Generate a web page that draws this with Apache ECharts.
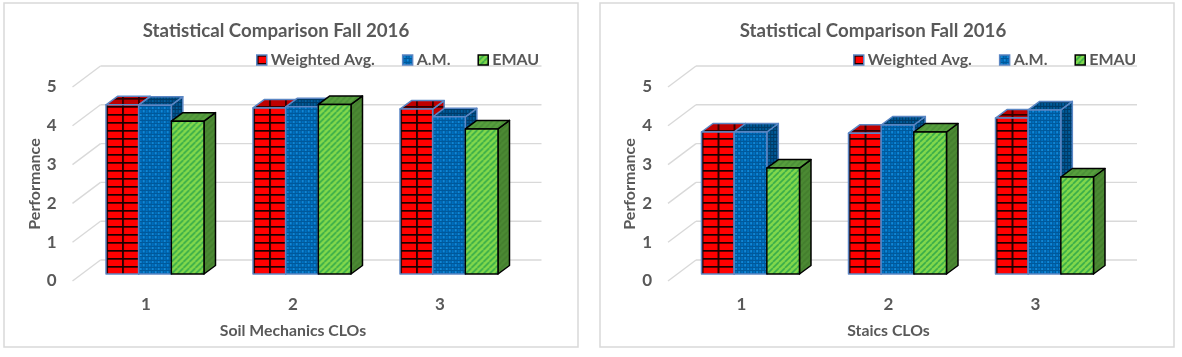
<!DOCTYPE html>
<html><head><meta charset="utf-8">
<style>html,body{margin:0;padding:0;background:#fff}#c{width:1182px;height:357px}</style>
<script src="https://cdn.jsdelivr.net/npm/echarts@6/dist/echarts.min.js"></script>
</head><body><div id="c"></div>
<script>
const categories = ['1', '2', '3'];
const seriesNames = ['Weighted Avg.', 'A.M.', 'EMAU'];
const soilWeighted = [4.36, 4.28, 4.25];
const soilAM = [4.35, 4.31, 4.05];
const soilEMAU = [3.94, 4.37, 3.74];
const staicsWeighted = [3.66, 3.63, 4.02];
const staicsAM = [3.66, 3.84, 4.23];
const staicsEMAU = [2.73, 3.66, 2.50];
const chartTitle = 'Statistical Comparison Fall 2016';
const yTicks = [0, 1, 2, 3, 4, 5];
const yName = 'Performance';
const xNames = ['Soil Mechanics CLOs', 'Staics CLOs'];

function tile(w, h, draw) {
  const c = document.createElement('canvas'); c.width = w; c.height = h;
  draw(c.getContext('2d')); return { image: c, repeat: 'repeat' };
}
function gridPat(bg, line) {
  return tile(16, 8, g => {
    g.fillStyle = bg; g.fillRect(0, 0, 16, 8);
    g.fillStyle = line; g.fillRect(0, 0, 16, 1.7); g.fillRect(0, 0, 1.8, 8);
  });
}
function plaidPat(bg, dark, light) {
  return tile(6, 7, g => {
    g.fillStyle = bg; g.fillRect(0, 0, 6, 7);
    g.fillStyle = dark; g.fillRect(0, 0, 6, 1); g.fillRect(0, 3, 6, 1);
    g.fillRect(0, 0, 1, 7); g.fillRect(3, 0, 1, 7);
    g.fillStyle = light; g.fillRect(1, 1, 2, 2); g.fillRect(4, 4, 2, 2);
  });
}
function stripePat(bg, line) {
  return tile(6, 6, g => {
    g.fillStyle = bg; g.fillRect(0, 0, 6, 6);
    g.strokeStyle = line; g.lineWidth = 1.6; g.beginPath();
    for (let i = -6; i <= 12; i += 6) { g.moveTo(i, 6); g.lineTo(i + 6, 0); }
    g.stroke();
  });
}
const looks = [
  { front: gridPat('#ff0000', '#1a0000'), top: gridPat('#bf0000', '#300000'), side: gridPat('#bf0000', '#300000'), border: '#5b86c4' },
  { front: plaidPat('#0070c0', '#00589a', '#1088d8'), top: plaidPat('#005490', '#003a66', '#00609f'), side: plaidPat('#005490', '#003a66', '#00609f'), border: '#5b86c4' },
  { front: stripePat('#82d84c', '#38ac4a'), top: stripePat('#589f3e', '#4a9038'), side: stripePat('#4c8a34', '#447e2e'), border: '#000000' }
];

const WALL_DX = 28, WALL_DY = 21, BAR_SHIFT_X = 9, BAR_SHIFT_Y = 7, DEPTH_X = 11.5, DEPTH_Y = 8.5, BAR_SHARE = 0.2222;

function barRender(slot) {
  return function (params, api) {
    const p = api.coord([api.value(0), api.value(1)]);
    const b = api.coord([api.value(0), 0]);
    const w = api.size([1, 0])[0] * BAR_SHARE;
    const x0 = p[0] + BAR_SHIFT_X + (slot - 1.5) * w;
    const h = b[1] - p[1], look = looks[slot];
    const st = f => ({ fill: f, stroke: look.border, lineWidth: 1.5, lineJoin: 'round' });
    // shapes are local to the bar so each pattern starts at the bar's own corner
    return { type: 'group', x: x0, y: b[1] - BAR_SHIFT_Y, children: [
      { type: 'polygon', shape: { points: [[w, -h], [w + DEPTH_X, -h - DEPTH_Y], [w + DEPTH_X, -DEPTH_Y], [w, 0]] }, style: st(look.side) },
      { type: 'polygon', shape: { points: [[0, -h], [DEPTH_X, -h - DEPTH_Y], [w + DEPTH_X, -h - DEPTH_Y], [w, -h]] }, style: st(look.top) },
      { type: 'rect', shape: { x: 0, y: -h, width: w, height: h }, style: st(look.front) }
    ] };
  };
}
function wallRender(params, api) {
  const v = api.value(0);
  const c = api.coord([0, v]), band = api.size([1, 0])[0];
  const ax = c[0] - band / 2, ex = c[0] + 2.5 * band, y = c[1];
  const line = (x1, y1, x2, y2) => ({ type: 'line', shape: { x1, y1, x2, y2 }, style: { stroke: '#d9d9d9', lineWidth: 1.4, fill: null } });
  return { type: 'group', children: [
    line(ax, y, ax + WALL_DX, y - WALL_DY),
    line(ax + WALL_DX, y - WALL_DY, ex + WALL_DX, y - WALL_DY)
  ] };
}

const panels = [
  { left: 72.5, cx: 276, legendLeft: 256, values: [soilWeighted, soilAM, soilEMAU], frame: [4, 3, 574, 344] },
  { left: 668, cx: 873, legendLeft: 853, values: [staicsWeighted, staicsAM, staicsEMAU], frame: [600, 3, 574, 344] }
];
const textColor = '#595959', fontFamily = 'Lato';
const option = {
  animation: false,
  backgroundColor: '#fff',
  title: panels.map(p => ({ text: chartTitle, left: p.cx, top: 21, padding: 0, textAlign: 'center',
    textStyle: { color: textColor, fontFamily, fontSize: 18.7, fontWeight: 'bold' } })),
  legend: panels.map(p => ({
    left: p.legendLeft, top: 52, itemWidth: 10, itemHeight: 10, itemGap: 27, padding: 0, selectedMode: false,
    textStyle: { color: textColor, fontFamily, fontSize: 16, fontWeight: 'bold', padding: [0, 0, 0, -1] },
    data: seriesNames.map((n, i) => ({ name: n, icon: 'rect', itemStyle: { color: looks[i].front, borderColor: looks[i].border, borderWidth: 1.5 } }))
  })),
  grid: panels.map(p => ({ left: p.left, width: 441, top: 87, height: 194 })),
  xAxis: panels.map((p, i) => ({
    type: 'category', gridIndex: i, data: categories, name: xNames[i], nameLocation: 'middle', nameGap: 42,
    nameTextStyle: { color: textColor, fontFamily, fontSize: 15.8, fontWeight: 'bold' },
    axisLine: { show: false }, axisTick: { show: false }, splitLine: { show: false },
    axisLabel: { color: textColor, fontFamily, fontSize: 17, fontWeight: 'bold', margin: 15 }
  })),
  yAxis: panels.map((p, i) => ({
    type: 'value', gridIndex: i, min: 0, max: 5, interval: 1, name: yName, nameLocation: 'middle', nameGap: 30,
    nameTextStyle: { color: textColor, fontFamily, fontSize: 16, fontWeight: 'bold' },
    axisLine: { show: false }, axisTick: { show: false }, splitLine: { show: false },
    axisLabel: { color: textColor, fontFamily, fontSize: 17, fontWeight: 'bold', margin: 16 }
  })),
  graphic: panels.map(p => ({ type: 'rect', silent: true, z: -1,
    shape: { x: p.frame[0], y: p.frame[1], width: p.frame[2], height: p.frame[3] },
    style: { fill: '#fff', stroke: '#d9d9d9', lineWidth: 1.5 } })),
  series: []
};
panels.forEach((p, i) => {
  option.series.push({ type: 'custom', name: 'wall' + i, xAxisIndex: i, yAxisIndex: i, renderItem: wallRender,
    clip: false, silent: true, data: yTicks.map(v => [v]), encode: { y: 0 }, z: 1 });
  seriesNames.forEach((n, s) => {
    option.series.push({ type: 'custom', name: n, xAxisIndex: i, yAxisIndex: i, renderItem: barRender(s),
      clip: false, data: p.values[s].map((v, k) => [k, v]), encode: { x: 0, y: 1 }, z: 2 + s,
      itemStyle: { color: looks[s].border } });
  });
});
const chart = echarts.init(document.getElementById('c'), null, { renderer: 'canvas' });
chart.setOption(option);
</script></body></html>
